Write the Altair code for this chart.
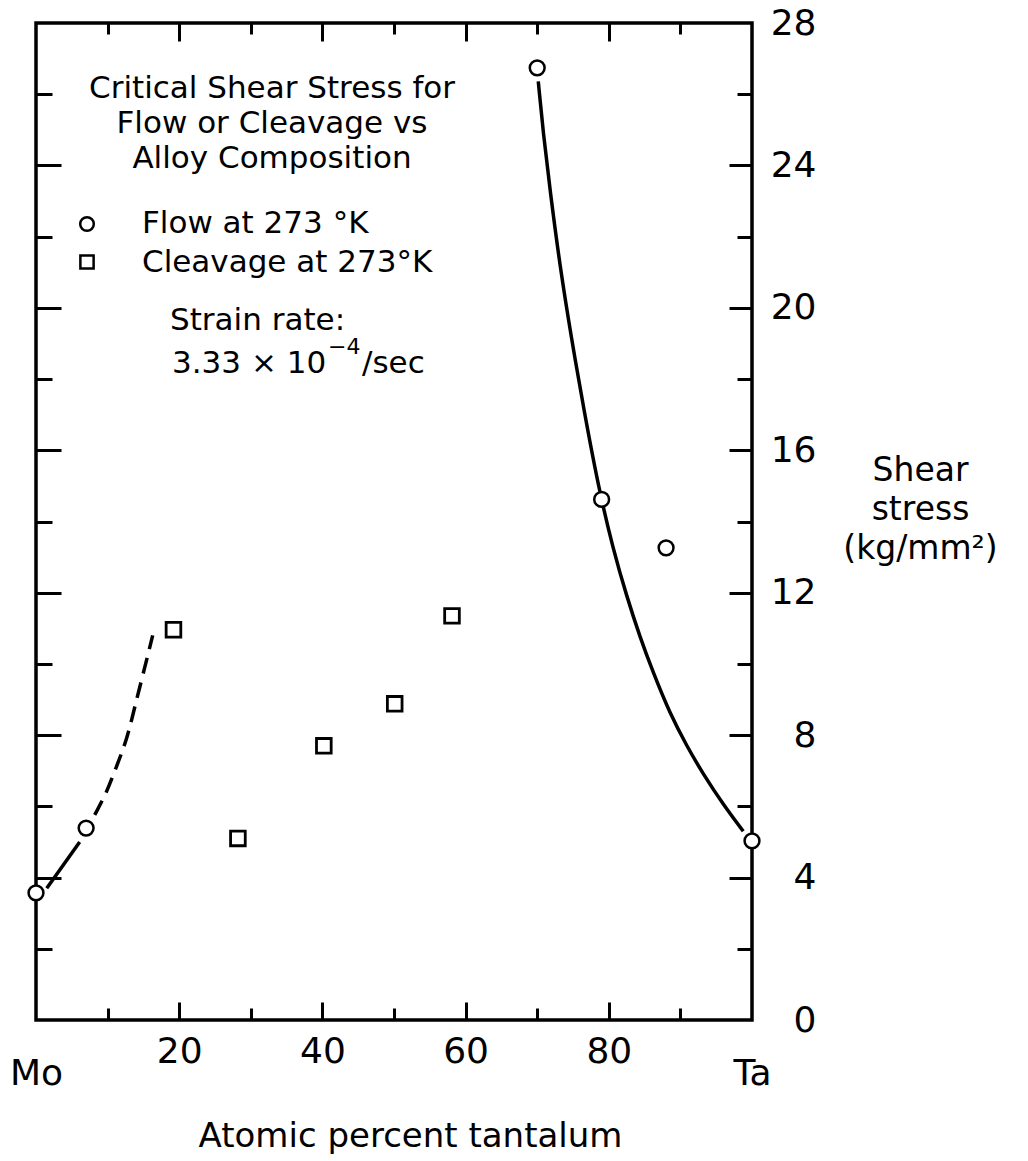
import altair as alt
import pandas as pd

# Measured critical shear stress (kg/mm^2) vs atomic percent Ta
flow_ta = [0, 7, 70, 79, 88, 100]
flow_tau = [3.57, 5.39, 26.74, 14.62, 13.26, 5.03]
cleave_ta = [19.2, 28.2, 40.2, 50.1, 58.1]
cleave_tau = [10.96, 5.1, 7.7, 8.88, 11.35]

# Faired curves drawn through the data
mo_solid_ta = [1.5, 6.1]
mo_solid_tau = [3.7, 5.0]
mo_dash_ta = [8.2, 9.9, 11.0, 12.7, 13.8, 15.0, 16.3]
mo_dash_tau = [5.76, 6.4, 7.0, 7.87, 8.8, 9.75, 10.8]
ta_curve_ta = [70.15, 70.85, 71.79, 73.18, 74.82, 76.44, 78.53,
               80.63, 82.50, 84.36, 86.21, 88.55, 90.88, 93.20, 95.99, 98.78]
ta_curve_tau = [26.36, 24.9, 23.31, 21.16, 19.10, 17.23, 14.98,
                13.2, 11.9, 10.75, 9.75, 8.6, 7.7, 6.9, 6.05, 5.3]

kinds = ["Flow at 273 °K", "Cleavage at 273°K"]
x_label_values = [0, 20, 40, 60, 80, 100]
x_minor_values = [10, 20, 30, 40, 50, 60, 70, 80, 90]
y_label_values = [0, 4, 8, 12, 16, 20, 24, 28]
y_minor_values = [2, 4, 6, 8, 10, 12, 14, 16, 18, 20, 22, 24, 26]

title_lines = ["Critical Shear Stress for", "Flow or Cleavage vs", "Alloy Composition"]
rate_label = "Strain rate:"
rate_mantissa = "3.33 × 10"
rate_exponent = "−4"
rate_unit = "/sec"

W, H = 716, 997
FONT = "DejaVu Sans"

flow = pd.DataFrame({"ta": flow_ta, "tau": flow_tau})
cleave = pd.DataFrame({"ta": cleave_ta, "tau": cleave_tau})
mo_solid = pd.DataFrame({"ta": mo_solid_ta, "tau": mo_solid_tau})
mo_dash = pd.DataFrame({"ta": mo_dash_ta, "tau": mo_dash_tau})
ta_curve = pd.DataFrame({"ta": ta_curve_ta, "tau": ta_curve_tau})

xs = alt.Scale(domain=[0, 100], nice=False, zero=False)
ys = alt.Scale(domain=[0, 28], nice=False, zero=False)


def inward(orient, offset, values, test, long, short):
    return alt.Axis(
        orient=orient, offset=offset, values=values, domain=False, labels=False,
        grid=False, title=None, tickColor="black", tickWidth=3,
        tickSize={"condition": {"test": test, "value": long}, "value": short},
    )


x_labels = alt.Axis(
    orient="bottom", values=x_label_values, domain=False, ticks=False, grid=False,
    labelExpr="datum.value == 0 ? 'Mo' : datum.value == 100 ? 'Ta' : datum.label",
    labelPadding={"condition": {"test": "datum.value == 0 || datum.value == 100", "value": 36}, "value": 14},
    labelFlush=False, labelOverlap=False, labelBaseline="top",
    labelFont=FONT, labelFontSize=36, labelColor="black",
    title="Atomic percent tantalum", titleFont=FONT, titleFontSize=34,
    titleFontWeight="normal", titleColor="black",
    titleX=374, titleY=126, titleBaseline="alphabetic", titleAlign="center",
)
y_labels = alt.Axis(
    orient="right", values=y_label_values, domain=False, ticks=False, grid=False,
    labelAlign="right", labelBaseline="middle", labelPadding=64,
    labelFlush=False, labelOverlap=False,
    labelFont=FONT, labelFontSize=36, labelColor="black",
    title=["Shear", "stress", "(kg/mm²)"], titleFont=FONT, titleFontSize=33,
    titleFontWeight="normal", titleColor="black", titleAngle=0,
    titleAlign="center", titleBaseline="alphabetic", titleLineHeight=39,
    titleX=168, titleY=457,
)

x_top_ticks = inward("bottom", -H, x_minor_values, "datum.value % 20 == 0", 18, 11)
x_bottom_ticks = inward("top", -H, x_minor_values, "datum.value % 20 == 0", 18, 12)
y_left_ticks = inward("right", -W, y_minor_values, "datum.value % 4 == 0", 25, 16)
y_right_ticks = inward("left", -W, y_minor_values, "datum.value % 4 == 0", 23, 15)

solid_left = alt.Chart(mo_solid).mark_line(color="black", strokeWidth=3.5).encode(
    x=alt.X("ta:Q", scale=xs, axis=x_bottom_ticks),
    y=alt.Y("tau:Q", scale=ys, axis=y_left_ticks),
)
dashed_left = alt.Chart(mo_dash).mark_line(
    color="black", strokeWidth=3.5, strokeDash=[16, 9], interpolate="basis"
).encode(
    x=alt.X("ta:Q", scale=xs, axis=None),
    y=alt.Y("tau:Q", scale=ys, axis=None),
)
right_curve = alt.Chart(ta_curve).mark_line(color="black", strokeWidth=3.5, interpolate="basis").encode(
    x=alt.X("ta:Q", scale=xs, axis=x_top_ticks),
    y=alt.Y("tau:Q", scale=ys, axis=y_right_ticks),
)
flow_pts = alt.Chart(flow).mark_point(
    shape="circle", filled=False, fill="white", color="black", strokeWidth=2.5, size=220, opacity=1
).encode(
    x=alt.X("ta:Q", scale=xs, axis=x_labels),
    y=alt.Y("tau:Q", scale=ys, axis=y_labels),
)
cleave_pts = alt.Chart(cleave).mark_point(
    shape="square", filled=False, fill="white", color="black", strokeWidth=2.8, size=215, opacity=1
).encode(
    x=alt.X("ta:Q", scale=xs, axis=None),
    y=alt.Y("tau:Q", scale=ys, axis=None),
)

one = alt.Data(values=[{}])


def note(text, x, y, size=31, align="left"):
    return alt.Chart(one).mark_text(
        font=FONT, fontSize=size, align=align, baseline="alphabetic", color="black", lineHeight=35
    ).encode(x=alt.value(x), y=alt.value(y), text=alt.value(text))


def key(shape, x, y, size):
    return alt.Chart(one).mark_point(
        shape=shape, filled=False, fill="white", color="black", strokeWidth=2.5, size=size, opacity=1
    ).encode(x=alt.value(x), y=alt.value(y))


notes = [
    note(title_lines, 236, 75, align="center"),
    key("circle", 51, 201, 185),
    note(kinds[0], 106, 210),
    key("square", 51, 239, 175),
    note(kinds[1], 106, 249),
    note(rate_label, 134, 307),
    note(rate_mantissa, 136, 350),
    note(rate_exponent, 292, 331, size=22),
    note(rate_unit, 326, 350),
]

chart = (
    alt.layer(solid_left, dashed_left, right_curve, flow_pts, cleave_pts, *notes)
    .resolve_axis(x="independent", y="independent")
    .properties(
        width=W, height=H,
        autosize=alt.AutoSizeParams(type="none"),
        padding={"left": 36, "top": 23, "right": 276, "bottom": 141},
        background="white",
    )
    .configure_view(stroke="black", strokeWidth=3.5)
    .configure_axis(grid=False)
)

chart.save("out.html", embed_options={"renderer": "svg", "actions": False})
